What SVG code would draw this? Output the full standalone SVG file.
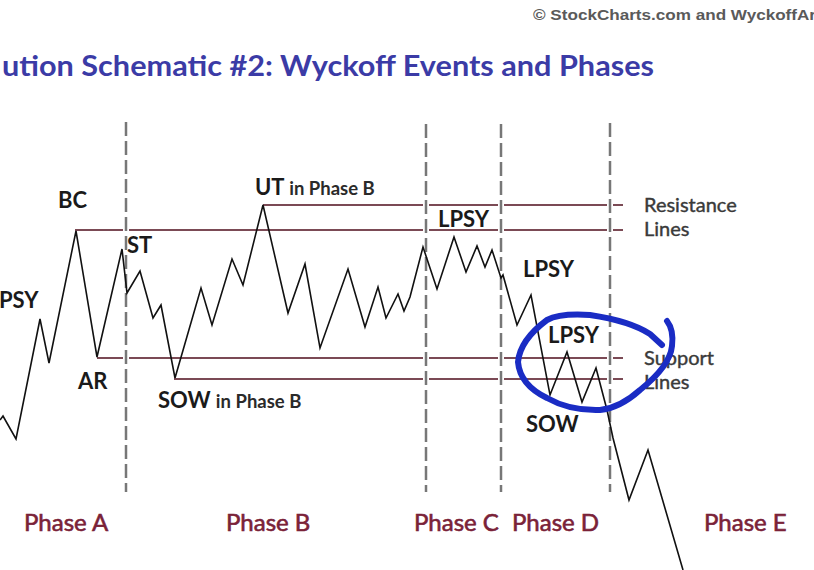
<svg xmlns="http://www.w3.org/2000/svg" width="814" height="570" viewBox="0 0 814 570">
<style>
.lbl{font-family:Lato,"Open Sans","Liberation Sans",sans-serif;font-weight:bold;font-size:22px;fill:#1a1a1a}
.sm{font-family:Lato,"Open Sans","Liberation Sans",sans-serif;font-weight:bold;font-size:18.5px;fill:#2a2a2a}
.side{font-family:Lato,"Open Sans","Liberation Sans",sans-serif;font-size:20px;fill:#3a3a3a;stroke:#3a3a3a;stroke-width:0.4}
.phase{font-family:Lato,"Open Sans","Liberation Sans",sans-serif;font-size:24px;fill:#7a2238;stroke:#7a2238;stroke-width:0.6}
.hl{stroke:#7b4a55;stroke-width:2;fill:none}
.dash{stroke:#777;stroke-width:2.5;stroke-dasharray:14 5;fill:none}
.price{stroke:#111;stroke-width:1.6;fill:none;stroke-linejoin:miter}
</style>
<rect width="814" height="570" fill="#fff"/>
<text x="533" y="20" font-family="'Liberation Sans',Arial,sans-serif" font-weight="bold" font-size="15.5" fill="#5a5a5a" textLength="283" lengthAdjust="spacingAndGlyphs">© StockCharts.com and WyckoffAr</text>
<text x="2" y="76" font-family="Lato,'Open Sans',sans-serif" font-weight="bold" font-size="28" fill="#3b3ba6" textLength="652" lengthAdjust="spacingAndGlyphs">ution Schematic #2: Wyckoff Events and Phases</text>
<g id="levels">
<path class="hl" d="M263,205H423M429,205H498M504,205H607M613,205H623"/>
<path class="hl" d="M75,230H123M129,230H423M429,230H498M504,230H607M613,230H623"/>
<path class="hl" d="M97,358H123M129,358H423M429,358H498M504,358H607M613,358H623"/>
<path class="hl" d="M174,379H423M429,379H498M504,379H607M613,379H623"/>
</g>
<g id="phase-dividers">
<line class="dash" x1="126" y1="122" x2="126" y2="492"/>
<line class="dash" x1="426" y1="124" x2="426" y2="492"/>
<line class="dash" x1="501" y1="124" x2="501" y2="492"/>
<line class="dash" x1="610" y1="123" x2="610" y2="492"/>
</g>
<g id="price">
<polyline class="price" points="0,420 3,416 16,439 40,319 49,363 76,231 97,357 122,249 127,293 140,271 153,318 161,305 175,378 201,288 212,325 232,259 243,285 263,205 288,313 305,264 320,348 348,269 365,327 378,287 386,318 398,294 404,311 410,297 423,247 437,289 454,237 466,272 477,246 485,267 492,250 501,278 503,275 517,325 531,295 550,395 567,352 582,402 596,368 607,410 613,438 629,500 648,450 683,570"/>
</g>
<g id="labels">
<text class="lbl" x="-1" y="308">PSY</text>
<text class="lbl" x="58" y="208">BC</text>
<text class="lbl" x="127" y="253">ST</text>
<text class="lbl" x="78" y="389">AR</text>
<text class="lbl" x="158" y="408">SOW <tspan class="sm">in Phase B</tspan></text>
<text class="lbl" x="255" y="195">UT <tspan class="sm">in Phase B</tspan></text>
<text class="lbl" x="438" y="227">LPSY</text>
<text class="lbl" x="523" y="277">LPSY</text>
<text class="lbl" x="548" y="343">LPSY</text>
<text class="lbl" x="526" y="432">SOW</text>
<text class="side" x="644" y="212">Resistance</text>
<text class="side" x="644" y="236">Lines</text>
<text class="side" x="644" y="365">Support</text>
<text class="side" x="644" y="389">Lines</text>
</g>
<g id="phases">
<text class="phase" x="24" y="531">Phase A</text>
<text class="phase" x="226" y="531">Phase B</text>
<text class="phase" x="414" y="531">Phase C</text>
<text class="phase" x="512" y="531">Phase D</text>
<text class="phase" x="704" y="531">Phase E</text>
</g>
<g id="annotation">
<path d="M667,321 Q674,330 672,346 Q670,366 640,390 Q620,408 600,410 Q570,411 547,398 Q520,385 518,362 Q520,340 547,320 Q560,313 590,315 Q630,321 650,334 L662,345" fill="none" stroke="#1a2cc4" stroke-width="6" stroke-linecap="round" stroke-linejoin="round"/>
</g>
</svg>
